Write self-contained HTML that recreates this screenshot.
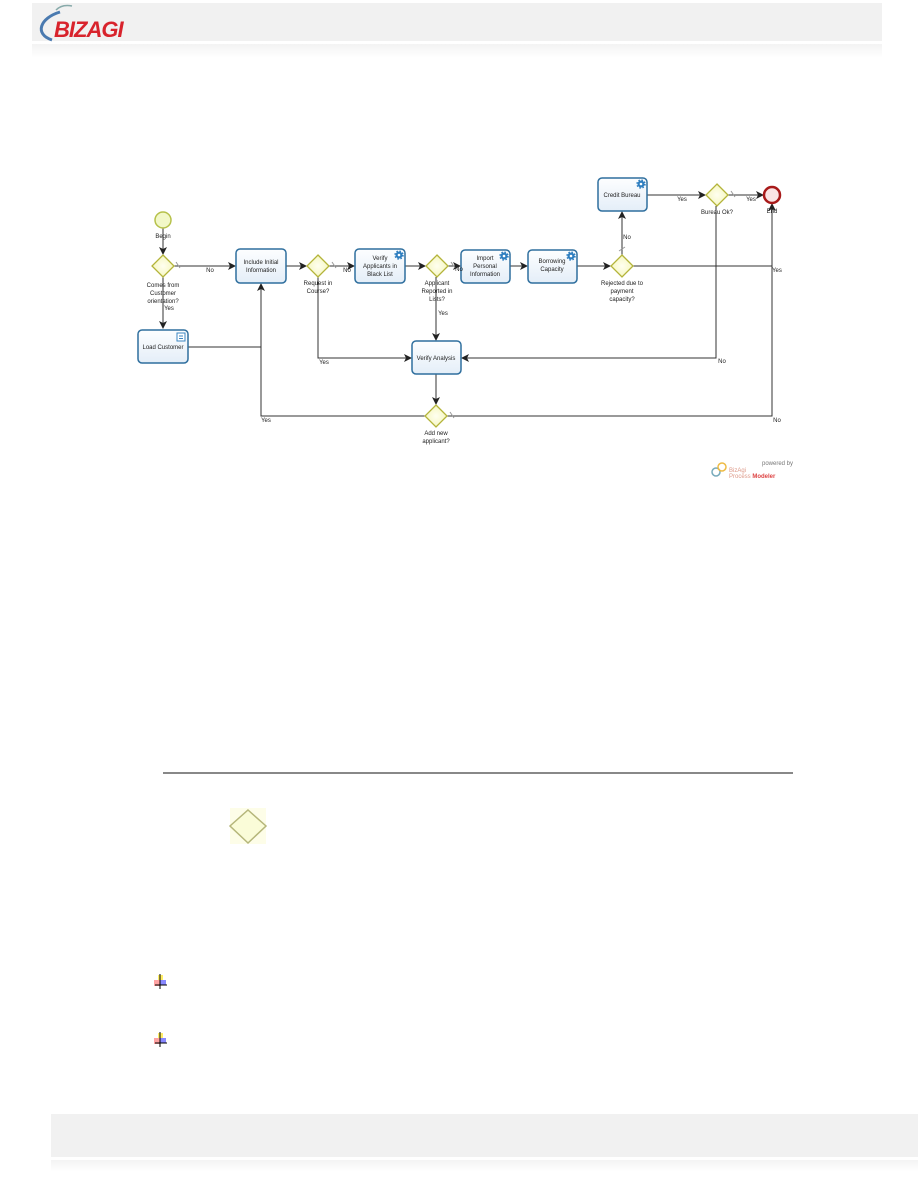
<!DOCTYPE html>
<html><head><meta charset="utf-8"><style>
html,body{margin:0;padding:0;background:#fff;}
body{width:918px;height:1188px;position:relative;overflow:hidden;font-family:"Liberation Sans",sans-serif;}
</style></head><body>
<svg width="918" height="1188" viewBox="0 0 918 1188" xmlns="http://www.w3.org/2000/svg" style="position:absolute;left:0;top:0">
<defs>
<linearGradient id="strip" x1="0" y1="0" x2="0" y2="1"><stop offset="0" stop-color="#f3f3f3"/><stop offset="1" stop-color="#fff"/></linearGradient>
<linearGradient id="task" x1="0" y1="0" x2="0" y2="1"><stop offset="0" stop-color="#fdfeff"/><stop offset="1" stop-color="#e4eef8"/></linearGradient>
<radialGradient id="gw" cx="0.5" cy="0.5" r="0.6"><stop offset="0" stop-color="#fffff0"/><stop offset="1" stop-color="#f4f5b8"/></radialGradient>
<marker id="ar" markerWidth="8" markerHeight="8" refX="7" refY="4" orient="auto" markerUnits="userSpaceOnUse"><path d="M0,0 L8,4 L0,8 L2,4 Z" fill="#222"/></marker>
<g id="gear"><circle r="3.5" fill="#2f7fc0" stroke="#2f7fc0" stroke-width="2.4" stroke-dasharray="1.4 1.4"/><circle r="1.3" fill="#fff"/></g>
</defs>
<rect x="32" y="3" width="850" height="38" fill="#f1f1f1"/>
<rect x="32" y="44" width="850" height="14" fill="url(#strip)"/>
<path d="M60,12 C40,18 34,34 52,40" stroke="#4a7ab0" stroke-width="3" fill="none"/>
<path d="M56,10 Q62,4 72,6" stroke="#8aa" stroke-width="1.5" fill="none"/>
<text x="54" y="37" font-size="22" font-style="italic" font-weight="bold" fill="#d8232c" letter-spacing="-1">BIZAGI</text>
<rect x="51" y="1114" width="867" height="43" fill="#f1f1f1"/>
<rect x="51" y="1160" width="867" height="12" fill="url(#strip)"/>

<g stroke="#333" stroke-width="1" fill="none">
<line x1="163" y1="228" x2="163" y2="254" marker-end="url(#ar)"/>
<line x1="163" y1="277" x2="163" y2="328" marker-end="url(#ar)"/>
<line x1="174" y1="266" x2="235" y2="266" marker-end="url(#ar)"/>
<line x1="286" y1="266" x2="306" y2="266" marker-end="url(#ar)"/>
<line x1="329" y1="266" x2="354" y2="266" marker-end="url(#ar)"/>
<line x1="405" y1="266" x2="425" y2="266" marker-end="url(#ar)"/>
<line x1="448" y1="266" x2="460" y2="266" marker-end="url(#ar)"/>
<line x1="510" y1="266" x2="527" y2="266" marker-end="url(#ar)"/>
<line x1="577" y1="266" x2="610" y2="266" marker-end="url(#ar)"/>
<line x1="622" y1="255" x2="622" y2="212" marker-end="url(#ar)"/>
<line x1="647" y1="195" x2="705" y2="195" marker-end="url(#ar)"/>
<line x1="728" y1="195" x2="763" y2="195" marker-end="url(#ar)"/>
<line x1="633" y1="266" x2="772" y2="266"/>
<polyline points="716,206 716,358 462,358" marker-end="url(#ar)"/>
<polyline points="318,277 318,358 411,358" marker-end="url(#ar)"/>
<line x1="436" y1="277" x2="436" y2="340" marker-end="url(#ar)"/>
<line x1="436" y1="374" x2="436" y2="404" marker-end="url(#ar)"/>
<polyline points="447,416 772,416 772,204" marker-end="url(#ar)"/>
<polyline points="425,416 261,416 261,284" marker-end="url(#ar)"/>
<line x1="188" y1="347" x2="261" y2="347"/>
</g>
<g stroke="#999" stroke-width="1">
<line x1="176" y1="262" x2="180" y2="268"/><line x1="332" y1="262" x2="336" y2="268"/>
<line x1="451" y1="262" x2="455" y2="268"/><line x1="731" y1="191" x2="735" y2="197"/>
<line x1="619" y1="251" x2="625" y2="247"/><line x1="450" y1="412" x2="454" y2="418"/>
</g>
<circle cx="163" cy="220" r="8" fill="#f2f8c8" stroke="#b6c14a" stroke-width="1.5"/>
<circle cx="772" cy="195" r="8" fill="#fbe4e4" stroke="#a81a1a" stroke-width="2.5"/>
<g fill="url(#gw)" stroke="#b4b43a" stroke-width="1.3">
<path d="M163,255 L174,266 L163,277 L152,266Z"/>
<path d="M318,255 L329,266 L318,277 L307,266Z"/>
<path d="M437,255 L448,266 L437,277 L426,266Z"/>
<path d="M622,255 L633,266 L622,277 L611,266Z"/>
<path d="M717,184 L728,195 L717,206 L706,195Z"/>
<path d="M436,405 L447,416 L436,427 L425,416Z"/>
</g>
<g fill="url(#task)" stroke="#2f6f9e" stroke-width="1.5">
<rect x="138" y="330" width="50" height="33" rx="4"/>
<rect x="236" y="249" width="50" height="34" rx="4"/>
<rect x="355" y="249" width="50" height="34" rx="4"/>
<rect x="461" y="250" width="49" height="33" rx="4"/>
<rect x="528" y="250" width="49" height="33" rx="4"/>
<rect x="598" y="178" width="49" height="33" rx="4"/>
<rect x="412" y="341" width="49" height="33" rx="4"/>
</g>
<use href="#gear" x="399" y="255"/><use href="#gear" x="504" y="256"/><use href="#gear" x="571" y="256"/><use href="#gear" x="641" y="184"/>
<rect x="177" y="333" width="8" height="8" fill="#fff" stroke="#3b86c2"/>
<line x1="179" y1="336" x2="183" y2="336" stroke="#3b86c2"/><line x1="179" y1="338.5" x2="183" y2="338.5" stroke="#3b86c2"/>
<g fill="#222" font-size="6" text-anchor="middle">
<text x="163" y="238">Begin</text>
<text x="163" y="287">Comes from</text><text x="163" y="295">Customer</text><text x="163" y="303">orientation?</text>
<text x="169" y="310">Yes</text>
<text x="210" y="272">No</text>
<text x="163" y="349">Load Customer</text>
<text x="261" y="264">Include Initial</text><text x="261" y="272">Information</text>
<text x="318" y="285">Request in</text><text x="318" y="293">Course?</text>
<text x="347" y="272">No</text>
<text x="380" y="260">Verify</text><text x="380" y="268">Applicants in</text><text x="380" y="276">Black List</text>
<text x="437" y="285">Applicant</text><text x="437" y="293">Reported in</text><text x="437" y="301">Lists?</text>
<text x="443" y="315">Yes</text><text x="459" y="271">No</text>
<text x="485" y="260">Import</text><text x="485" y="268">Personal</text><text x="485" y="276">Information</text>
<text x="552" y="263">Borrowing</text><text x="552" y="271">Capacity</text>
<text x="622" y="285">Rejected due to</text><text x="622" y="293">payment</text><text x="622" y="301">capacity?</text>
<text x="627" y="239">No</text>
<text x="622" y="197">Credit Bureau</text>
<text x="682" y="201">Yes</text><text x="717" y="214">Bureau Ok?</text>
<text x="751" y="201">Yes</text><text x="772" y="213">End</text>
<text x="777" y="272">Yes</text>
<text x="436" y="360">Verify Analysis</text>
<text x="324" y="364">Yes</text><text x="722" y="363">No</text>
<text x="436" y="435">Add new</text><text x="436" y="443">applicant?</text>
<text x="266" y="422">Yes</text><text x="777" y="422">No</text>
</g>
<g font-size="6">
<text x="762" y="465" fill="#777">powered by</text>
<text x="729" y="472" fill="#d98">BizAgi</text>
<text x="729" y="478" fill="#d98">Process <tspan font-weight="bold" fill="#d44">Modeler</tspan></text>
<circle cx="716" cy="472" r="4" fill="none" stroke="#7ab" stroke-width="1.5"/>
<circle cx="722" cy="467" r="4" fill="none" stroke="#eb4" stroke-width="1.5"/>
</g>
<line x1="163" y1="773" x2="793" y2="773" stroke="#111" stroke-width="1"/>
<rect x="230" y="808" width="36" height="36" fill="#fdfde8"/>
<path d="M248,810 L266,826 L248,843 L230,826Z" fill="#fafcd8" stroke="#b5b67a" stroke-width="1.5"/>
<g>
<rect x="154" y="980" width="6" height="6" fill="#f66" opacity="0.6"/><rect x="160" y="980" width="6" height="5" fill="#88f"/><rect x="158" y="975" width="5" height="5" fill="#fe6"/>
<line x1="160" y1="974" x2="160" y2="989" stroke="#000"/><line x1="155" y1="985" x2="167" y2="985" stroke="#000"/>
<rect x="154" y="1038" width="6" height="6" fill="#f66" opacity="0.6"/><rect x="160" y="1038" width="6" height="5" fill="#88f"/><rect x="158" y="1033" width="5" height="5" fill="#fe6"/>
<line x1="160" y1="1032" x2="160" y2="1047" stroke="#000"/><line x1="155" y1="1043" x2="167" y2="1043" stroke="#000"/>
</g>
</svg>
</body></html>
